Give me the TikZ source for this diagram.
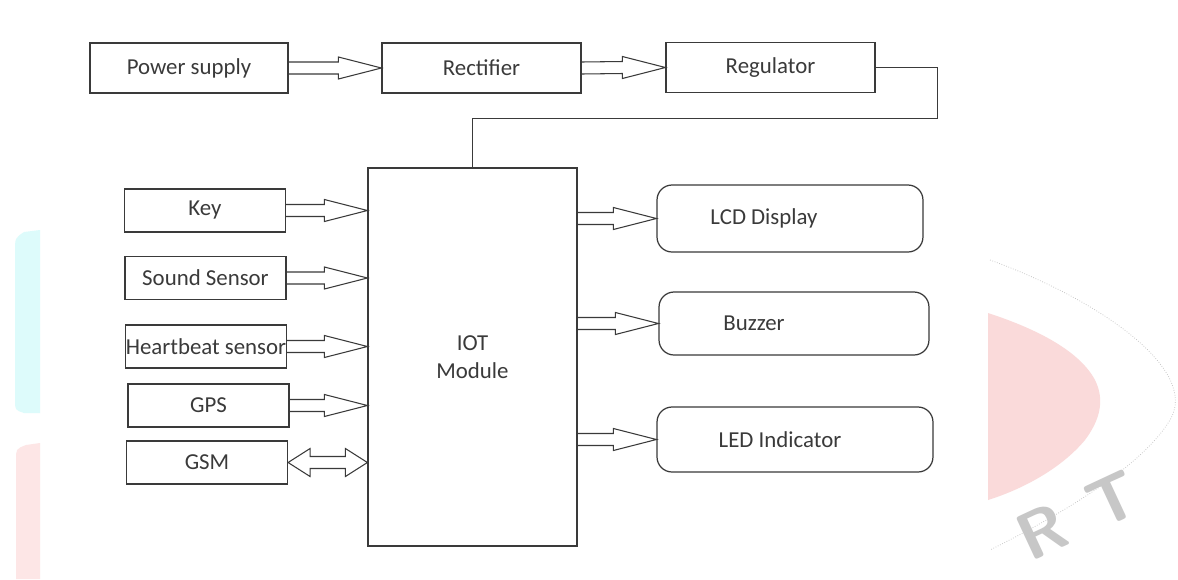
\documentclass[tikz,border=0pt]{standalone}
\usepackage{fontspec}
\setmainfont{Carlito}
\definecolor{ink}{HTML}{3A3A3A}
\definecolor{wmcyan}{HTML}{DDFBFB}
\definecolor{wmpink}{HTML}{FDE6E6}
\definecolor{wmred}{HTML}{FADADA}
\newcommand{\fatarrow}[2]{%
  \coordinate (fa-s) at (#1);
  \coordinate (fa-t) at (#2);
  \draw[fat] ([shift={(0,-6)}]fa-s) -- ([shift={(-43,-6)}]fa-t) -- ([shift={(-43,-11)}]fa-t) -- (fa-t)
    -- ([shift={(-43,11)}]fa-t) -- ([shift={(-43,6)}]fa-t) -- ([shift={(0,6)}]fa-s);}
\newcommand{\fatdarrow}[2]{%
  \coordinate (fa-s) at (#1);
  \coordinate (fa-t) at (#2);
  \draw[fat] (fa-s) -- ([shift={(22,-14)}]fa-s) -- ([shift={(22,-6)}]fa-s) -- ([shift={(-22,-6)}]fa-t)
    -- ([shift={(-22,-14)}]fa-t) -- (fa-t) -- ([shift={(-22,14)}]fa-t) -- ([shift={(-22,6)}]fa-t)
    -- ([shift={(22,6)}]fa-s) -- ([shift={(22,14)}]fa-s) -- cycle;}
\begin{document}
\begin{tikzpicture}[x=0.02cm, y=-0.02cm, font=\fontsize{13}{16}\selectfont,
  blk/.style={draw=ink, line width=0.7pt, text=ink, inner sep=0pt, minimum height=1cm},
  inbox/.style={blk, minimum width=3.22cm, minimum height=0.86cm},
  outbox/.style={blk, rounded corners=0.3cm, minimum width=5.4cm, minimum height=1.3cm},
  fat/.style={draw=ink, line width=0.6pt, line join=miter},
  wire/.style={draw=ink, line width=0.7pt},
  wmtext/.style={text=black!22, inner sep=0pt, font=\fontsize{38}{38}\selectfont\bfseries\sffamily, rotate=25}]
\useasboundingbox (0,0) rectangle (1178,579);
\fill[white] (0,0) rectangle (1178,579);
\fill[wmcyan] (40,230) -- (24,232) .. controls (15,238) .. (15,252) -- (15,400) .. controls (15,410) .. (24,413) -- (40,413) -- cycle;
\fill[wmpink] (40,443) -- (26,445) .. controls (16,449) .. (16,460) -- (16,579) -- (40,579) -- cycle;
\fill[wmred] (988,313) .. controls (1040,330) and (1080,352) .. (1095,380) .. controls (1105,400) and (1100,420) .. (1085,440) .. controls (1060,470) and (1020,490) .. (988,500) -- cycle;
\draw[black!25, densely dotted] (990,260) .. controls (1100,300) and (1200,370) .. (1170,420) .. controls (1140,470) and (1050,520) .. (990,550);
\node[wmtext] (wmark) at (1078,515) {R\hspace{0.45em}T};

\node[blk, minimum width=3.96cm] (power) at (189,68) {Power supply};
\node[blk, minimum width=3.98cm] (rect) at (481.5,68) {Rectifier};
\node[blk, minimum width=4.18cm] (reg) at (770.5,67.5) {Regulator};
\node[blk, minimum width=4.18cm, minimum height=7.56cm, align=center] (iot) at (472.5,357) {IOT\\Module};
\node[inbox] (key) at (205,210.5) {Key};
\node[inbox] (sound) at (205.5,278) {Sound Sensor};
\node[inbox] (heart) at (206,346.5) {Heartbeat sensor};
\node[inbox] (gps) at (208.5,405.5) {GPS};
\node[inbox] (gsm) at (207,462.5) {GSM};
\node[outbox, minimum width=5.32cm, minimum height=1.34cm, label={[text=ink, xshift=-0.52cm]center:LCD Display}] (lcd) at (790,218.5) {};
\node[outbox, minimum height=1.26cm, label={[text=ink, xshift=-0.8cm]center:Buzzer}] (buzz) at (794,323.5) {};
\node[outbox, minimum width=5.52cm, label={[text=ink, xshift=-0.3cm]center:LED Indicator}] (led) at (795,439.5) {};

\fatarrow{power.east}{rect.west}
\fatarrow{rect.east}{reg.west}
\draw[wire] (reg.east) -- ++(62,0) -- ++(0,51) -| (iot.north);
\fatarrow{key.east}{key.east -| iot.west}
\fatarrow{sound.east}{sound.east -| iot.west}
\fatarrow{heart.east}{heart.east -| iot.west}
\fatarrow{gps.east}{gps.east -| iot.west}
\fatdarrow{gsm.east}{gsm.east -| iot.west}
\fatarrow{lcd.west -| iot.east}{lcd.west}
\fatarrow{buzz.west -| iot.east}{buzz.west}
\fatarrow{led.west -| iot.east}{led.west}
\end{tikzpicture}
\end{document}
